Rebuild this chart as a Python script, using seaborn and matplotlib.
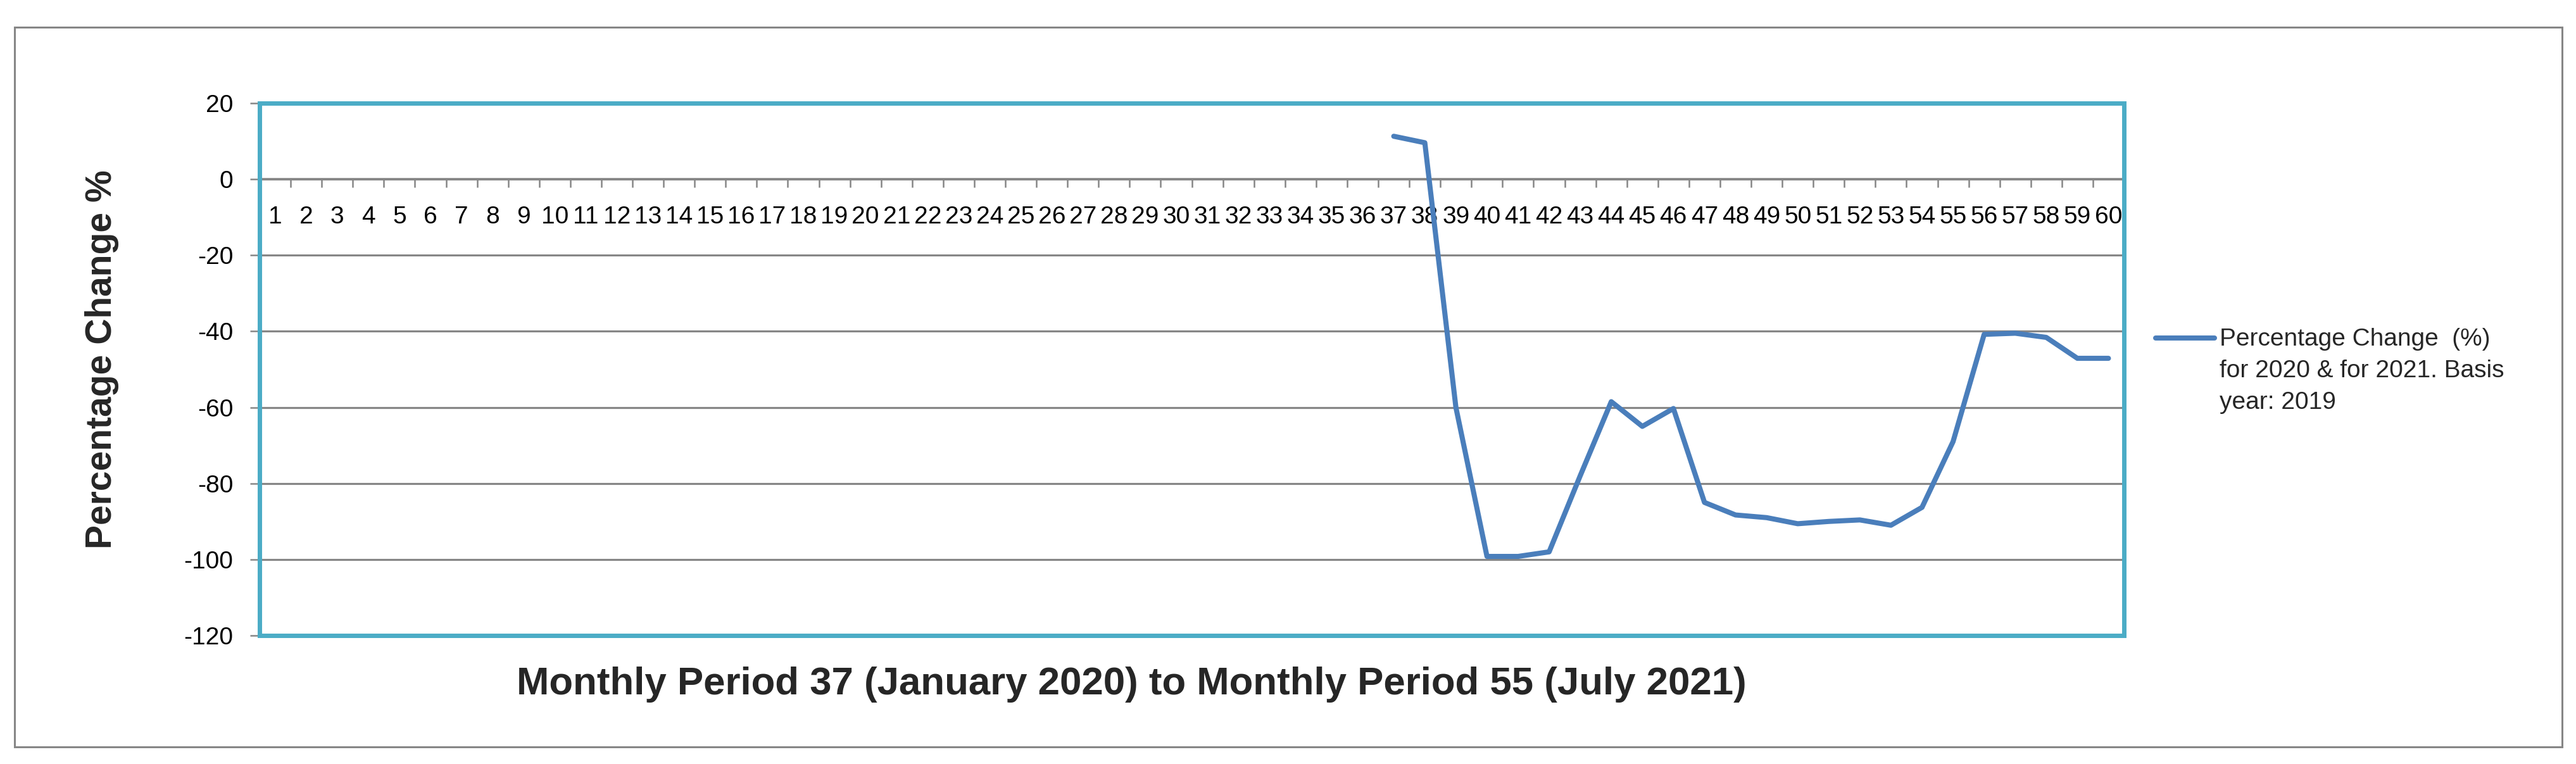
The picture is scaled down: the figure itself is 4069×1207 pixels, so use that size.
import numpy as np
import pandas as pd
import matplotlib
matplotlib.use("Agg")
import matplotlib.pyplot as plt
import seaborn as sns
from matplotlib.patches import Rectangle
from matplotlib.ticker import FixedLocator
from matplotlib.legend_handler import HandlerLine2D

# ---------------- data ----------------
periods = list(range(1, 61))
tick_labels = [str(p) for p in periods]
data_periods = list(range(37, 61))
pct_change = [11.3, 9.6, -60.0, -99.2, -99.2, -98.0, -78.0, -58.5, -65.0, -60.3,
              -85.0, -88.3, -89.0, -90.6, -90.0, -89.6, -91.0, -86.3, -69.0,
              -40.8, -40.5, -41.6, -47.1, -47.1]
y_ticks = [-120, -100, -80, -60, -40, -20, 0, 20]
series_label = "Percentage Change  (%)\nfor 2020 & for 2021. Basis\nyear: 2019"
x_title = "Monthly Period 37 (January 2020) to Monthly Period 55 (July 2021)"
y_title = "Percentage Change %"

# ---------------- style ----------------
sns.set_style("white")
plt.rcParams['font.family'] = ['Liberation Sans', 'DejaVu Sans']

LINE_C = '#4A7EBB'
FRAME_C = '#4BACC6'
GRID_C = '#868686'


class FirstLineHandler(HandlerLine2D):
    """Legend handle placed beside the first line of a multi-line label."""
    def __init__(self, shift, **kw):
        super().__init__(**kw)
        self.shift = shift

    def create_artists(self, legend, orig_handle, xdescent, ydescent, width,
                       height, fontsize, trans):
        artists = super().create_artists(legend, orig_handle, xdescent, ydescent,
                                         width, height, fontsize, trans)
        for a in artists:
            a.set_ydata(np.asarray(a.get_ydata(), dtype=float) + self.shift)
        return artists


W, H = 4069, 1207
fig = plt.figure(figsize=(W / 100, H / 100), dpi=100)
L, R, T, B = 410, 3355, 163, 1004
ax = fig.add_axes([L / W, 1 - B / H, (R - L) / W, (B - T) / H])

df = pd.DataFrame({'period': data_periods, 'pct': pct_change})
sns.lineplot(data=df, x='period', y='pct', ax=ax, color=LINE_C, linewidth=5.8,
             label=series_label, solid_capstyle='round', solid_joinstyle='round',
             zorder=5)

ax.set_xlim(0.5, 60.5)
ax.set_ylim(-120, 20)
ax.set_yticks(y_ticks)
ax.set_yticklabels([str(v) for v in y_ticks])
ax.set_xticks(periods)
ax.set_xticklabels(tick_labels)
ax.xaxis.set_minor_locator(FixedLocator([p + 0.5 for p in periods[:-1]]))

ax.set_axisbelow(True)
ax.yaxis.grid(True, color=GRID_C, linewidth=2.3)
ax.xaxis.grid(False)

for s in ['top', 'left', 'right']:
    ax.spines[s].set_visible(False)
ax.spines['bottom'].set_position(('data', 0))
ax.spines['bottom'].set_color(GRID_C)
ax.spines['bottom'].set_linewidth(2.6)

ax.add_patch(Rectangle((0, 0), 1, 1, transform=ax.transAxes, fill=False,
                       edgecolor=FRAME_C, linewidth=5, zorder=6, clip_on=False))

ax.tick_params(axis='y', which='major', direction='out', length=11, width=1.8,
               color=GRID_C, pad=19, labelsize=28, labelcolor='black', left=True)
ax.tick_params(axis='x', which='major', length=0, pad=30, labelsize=28,
               labelcolor='black', bottom=True)
ax.tick_params(axis='x', which='minor', direction='out', length=9.5, width=1.8,
               color=GRID_C, bottom=True)

ax.set_xlabel(x_title, fontsize=44.5, fontweight='bold')
ax.set_ylabel(y_title, fontsize=41, fontweight='bold')
ax.xaxis.set_label_coords((1787 - L) / (R - L), (B - 1053) / (B - T))
ax.yaxis.set_label_coords((188 - L) / (R - L), (B - 568) / (B - T))

handles, labels = ax.get_legend_handles_labels()
leg = ax.legend(handles, labels, loc='upper left',
                bbox_to_anchor=(3405 / W, 1 - 518 / H),
                bbox_transform=fig.transFigure, frameon=False, fontsize=28,
                handlelength=2.4, handletextpad=0.2, borderpad=0, borderaxespad=0,
                handler_map={handles[0]: FirstLineHandler(shift=38.0)})
for t in leg.get_texts():
    t.set_linespacing(1.5)
for h in leg.legend_handles:
    h.set_solid_capstyle('round')

fig.add_artist(Rectangle((23 / W, 1 - 1180 / H), (4047 - 23) / W, (1180 - 43) / H,
                         transform=fig.transFigure, fill=False, edgecolor=GRID_C,
                         linewidth=2.2))

fig.savefig('out.png', dpi=100)
